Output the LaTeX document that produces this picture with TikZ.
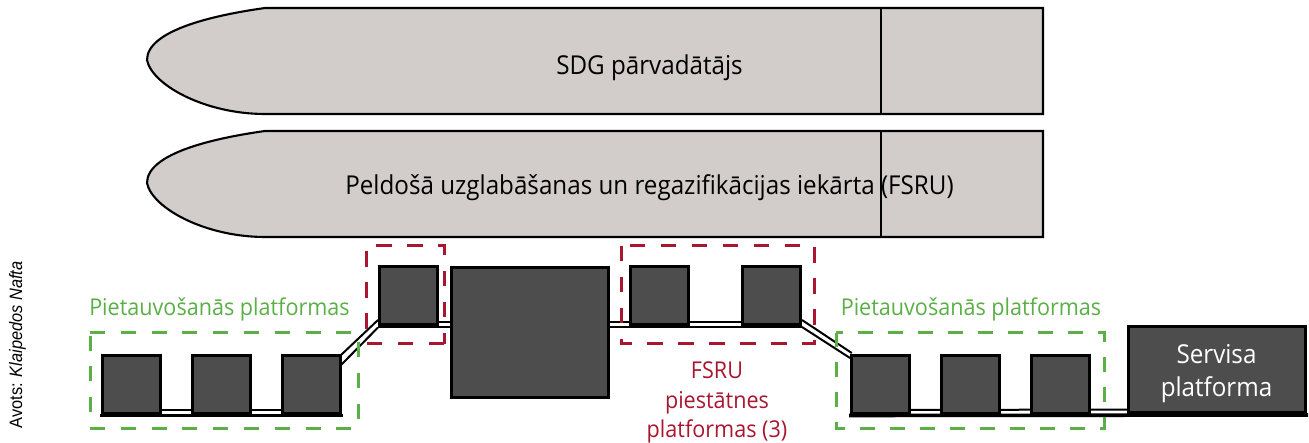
\documentclass[tikz,border=0pt]{standalone}
\usepackage{fontspec}
\setmainfont[FakeStretch=0.93]{Open Sans}
\newfontfamily\srcfont[FakeStretch=0.91]{Liberation Sans}
\usetikzlibrary{backgrounds}
\definecolor{shipfill}{HTML}{D2CDCA}
\definecolor{platfill}{HTML}{4D4D4D}
\definecolor{grn}{HTML}{5BAF47}
\definecolor{rd}{HTML}{A8172F}
\tikzset{
 ship/.style={draw=black,line width=2.1pt,fill=shipfill},
 divider/.style={draw=black,line width=1.2pt},
 plat/.style={draw=black,line width=2.6pt,fill=platfill,inner sep=0pt,outer sep=0pt,minimum width=57.5pt,minimum height=57.5pt},
 bigplat/.style={plat,minimum width=156.5pt,minimum height=130.5pt},
 svcplat/.style={plat,minimum width=177.5pt,minimum height=86.5pt},
 rail/.style={draw=black,line width=2pt},
 basebar/.style={draw=black,line width=3.6pt},
 gbox/.style={draw=grn,line width=3pt},
 rbox/.style={draw=rd,line width=3pt},
 big/.style={font=\fontsize{26pt}{30pt}\selectfont,anchor=base,inner sep=0pt},
 small/.style={font=\fontsize{23.2pt}{28pt}\selectfont,anchor=base,inner sep=0pt},
}
\begin{document}
\begin{tikzpicture}[x=1pt,y=-1pt]
\useasboundingbox (0,0) rectangle (1309,443);
% ships
\draw[ship] (1043,8) -- (265,8) .. controls (215,15) and (147,30) .. (147,60) .. controls (152,85) and (205,114) .. (265,114) -- (1043,114) -- cycle;
\draw[divider] (881,8) -- (881,114);
\draw[ship] (1043,131) -- (265,131) .. controls (215,138) and (147,153) .. (147,183) .. controls (152,208) and (205,237) .. (265,237) -- (1043,237) -- cycle;
\draw[divider] (881,131) -- (881,237);
\node[big] (s1) at (649.5,75) {SDG pārvadātājs};
\node[big] (s2) at (649.5,195) {Peldošā uzglabāšanas un regazifikācijas iekārta (FSRU)};
% platforms
\node[plat] (a1) at (131.5,384.5) {};
\node[plat] (a2) at (221.5,384.5) {};
\node[plat] (a3) at (311.5,384.5) {};
\node[plat] (b1) at (408.5,295.5) {};
\node[bigplat] (c) at (530,332.5) {};
\node[plat] (d1) at (659.5,295.5) {};
\node[plat] (d2) at (771.5,295.5) {};
\node[plat] (e1) at (880.5,384.5) {};
\node[plat] (e2) at (970.5,384.5) {};
\node[plat] (e3) at (1060.5,384.5) {};
\node[svcplat] (f) at (1217,369.5) {};
% rails behind the platforms
\begin{scope}[on background layer]
\draw[rail] ([yshift=3.25pt]a1.south east) -- ([yshift=3.25pt]a3.south west);
\draw[rail] ([yshift=3.25pt]e1.south east) -- ([yshift=3.25pt]f.south west);
\draw[rail] ([yshift=2.25pt]b1.south east) -- ([yshift=2.25pt]d2.south west);
\draw[rail] ([xshift=-1.75pt,yshift=4.25pt]b1.south west) -- ([xshift=.75pt,yshift=.75pt]a3.north east);
\draw[rail] ([xshift=-1.75pt,yshift=-3.25pt]b1.south west) -- ([xshift=.75pt,yshift=-9.25pt]a3.north east);
\draw[rail] ([xshift=1.75pt,yshift=4.25pt]d2.south east) -- ([yshift=2.75pt]e1.north west);
\draw[rail] ([xshift=1.75pt,yshift=-2.75pt]d2.south east) -- ([xshift=-1.75pt,yshift=-2.25pt]e1.north west);
\end{scope}
% lower rails in front of the platform edges
\draw[basebar] ([xshift=-2.75pt,yshift=-2.25pt]a1.south west) -- ([xshift=2.75pt,yshift=-2.25pt]a3.south east);
\draw[basebar] ([xshift=-2.75pt,yshift=-2.25pt]e1.south west) -- ([xshift=2.25pt,yshift=-2.25pt]f.south east);
\draw[rail] ([xshift=-1.75pt,yshift=-3.25pt]b1.south west) -- ([yshift=-3.25pt]c.west |- b1.south);
\draw[rail] ([yshift=-3.25pt]c.east |- d1.south) -- ([xshift=1.75pt,yshift=-3.25pt]d2.south east);
% service platform text
\node[big,text=white] (f1) at (1216.5,364) {Servisa};
\node[big,text=white] (f2) at (1216.5,396) {platforma};
% dashed groups
\draw[gbox,dash pattern=on 15pt off 15.8pt] (90,333) -- (358,333) -- (358,428) -- (90,428) -- cycle;
\draw[gbox,dash pattern=on 15pt off 15pt,dash phase=8pt] (836,333) -- (1104,333) -- (1104,428) -- (836,428) -- cycle;
\draw[rbox,dash pattern=on 15.5pt off 15.5pt] (444,344) -- (366,344) -- (366,246) -- (444,246) -- cycle;
\draw[rbox,dash pattern=on 15.5pt off 15.5pt] (621,246) -- (621,344) -- (814,344) -- (814,246) -- cycle;
% texts
\node[small,text=grn] (g1) at (219.5,316) {Pietauvošanās platformas};
\node[small,text=grn] (g2) at (971,316) {Pietauvošanās platformas};
\node[small,text=rd] (r1) at (717,378) {FSRU};
\node[small,text=rd] (r2) at (717,408) {piestātnes};
\node[small,text=rd] (r3) at (717,437) {platformas (3)};
\node[anchor=base,rotate=90,inner sep=0pt,font=\srcfont\fontsize{18pt}{20pt}\selectfont] (src) at (22,345) {Avots: \textit{Klaipedos Nafta}};
\end{tikzpicture}
\end{document}
